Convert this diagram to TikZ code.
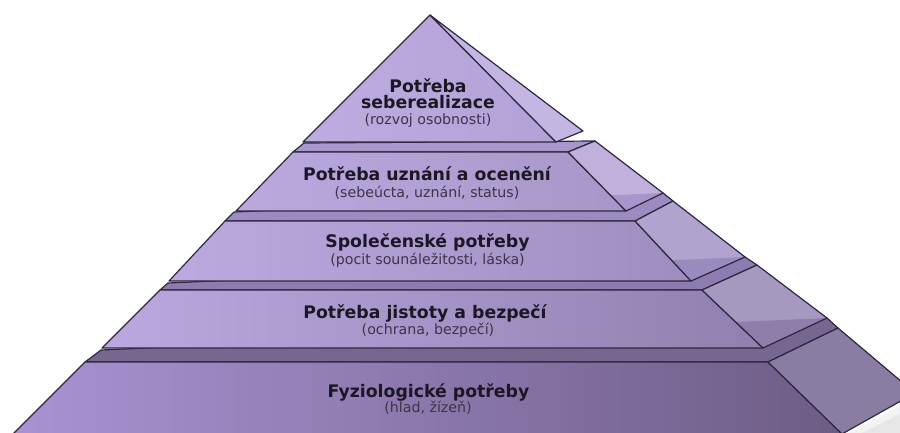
\documentclass[tikz,border=0pt]{standalone}
\usepackage{fontspec}
\setmainfont{DejaVu Sans}
\definecolor{edgec}{HTML}{2E2740}
\definecolor{titc}{HTML}{1B1724}
\definecolor{subc}{HTML}{3B354A}
\definecolor{fa1L}{HTML}{BCACE0}\definecolor{fa1R}{HTML}{B3A2D5}
\definecolor{fa2L}{HTML}{BAA9DF}\definecolor{fa2R}{HTML}{A797C8}
\definecolor{fa3L}{HTML}{BBA9E0}\definecolor{fa3R}{HTML}{9E8EBF}
\definecolor{fa4L}{HTML}{BAA8E0}\definecolor{fa4M}{HTML}{9A8ABB}\definecolor{fa4R}{HTML}{9080AE}
\definecolor{fa5L}{HTML}{A893D2}\definecolor{fa5M}{HTML}{7B6B98}\definecolor{fa5R}{HTML}{6C5D85}
\definecolor{sd1}{HTML}{C4B6E2}\definecolor{sd2}{HTML}{BFB1DC}\definecolor{sd3}{HTML}{B0A3CE}
\definecolor{sd4}{HTML}{A699C0}\definecolor{sd5}{HTML}{8A7DA2}
\definecolor{st2}{HTML}{A797CD}\definecolor{st3}{HTML}{9B8BC1}\definecolor{st4}{HTML}{8C7CB0}\definecolor{st5}{HTML}{756790}
\definecolor{dk2}{HTML}{A696CC}\definecolor{dk3}{HTML}{9A8BBF}\definecolor{dk4}{HTML}{8D7EAC}
\tikzset{
  edge/.style={draw=edgec, line width=1.2pt, line join=round},
  ttl/.style={font=\fontsize{17.3}{20}\selectfont\bfseries, text=titc, inner sep=0pt, anchor=base},
  sbt/.style={font=\fontsize{14.2}{16}\selectfont, text=subc, inner sep=0pt, anchor=base}
}
\begin{document}
\begin{tikzpicture}[x=1pt,y=-1pt]
\useasboundingbox (0,0) rectangle (900,432);
\clip (0,0) rectangle (900,432);
% tier 1
\coordinate (a1) at (430,15);
\coordinate (t1l) at (303,142);
\coordinate (t1r) at (556,142);
\coordinate (t1s) at (583,131);
% tier 2
\coordinate (t2fl) at (293,152); \coordinate (t2fr) at (568,152);
\coordinate (t2bl) at (236,211); \coordinate (t2br) at (626,211);
\coordinate (t2bt) at (595,141); \coordinate (t2bb) at (663,193);
\coordinate (t2kl) at (304,143);
% tier 3
\coordinate (t3fl) at (225,221); \coordinate (t3fr) at (635,221);
\coordinate (t3bl) at (169,281); \coordinate (t3br) at (691,281);
\coordinate (t3bt) at (673,201); \coordinate (t3bb) at (745,257);
\coordinate (t3kl) at (234,212);
% tier 4
\coordinate (t4fl) at (160,290); \coordinate (t4fr) at (702,290);
\coordinate (t4bl) at (102,348); \coordinate (t4br) at (763,348);
\coordinate (t4bt) at (757,265); \coordinate (t4bb) at (827,318);
\coordinate (t4kl) at (168,283);
% tier 5
\coordinate (t5fl) at (85,362); \coordinate (t5fr) at (768,362);
\coordinate (t5bl) at (13,434); \coordinate (t5br) at (842,434);
\coordinate (t5bt) at (838,328); \coordinate (t5bb) at (915,393);
\coordinate (t5kl) at (101,350);

% soft shadow
\fill[black, opacity=0.05] (846,434) -- (900,406) -- (900,434) -- cycle;
\fill[black, opacity=0.05] (860,434) -- (900,414) -- (900,434) -- cycle;

% ---- tier 5
\path[edge, fill=st5] (t5fl) -- (t5kl) -- (t4bb) -- (t5bt) -- (t5fr) -- cycle;
\path[edge, left color=fa5L, middle color=fa5M, right color=fa5R] (t5fl) -- (t5fr) -- (t5br) -- (t5bl) -- cycle;
\path[edge, fill=sd5] (t5fr) -- (t5bt) -- (t5bb) -- (t5br) -- cycle;
% ---- tier 4
\path[edge, fill=st4] (t4fl) -- (t4kl) -- (t3bb) -- (t4bt) -- (t4fr) -- cycle;
\path[edge, left color=fa4L, middle color=fa4M, right color=fa4R] (t4fl) -- (t4fr) -- (t4br) -- (t4bl) -- cycle;
\fill[sd4] (t4fr) -- (t4bt) -- (t4bb) -- (t4br) -- cycle;
\begin{scope}
  \clip (t4fr) -- (t4bt) -- (t4bb) -- (t4br) -- cycle;
  \fill[dk4] (t5fl) -- (t5kl) -- (t4bb) -- (t5bt) -- (t5fr) -- cycle;
\end{scope}
\path[edge] (t4fr) -- (t4bt) -- (t4bb) -- (t4br) -- cycle;
% ---- tier 3
\path[edge, fill=st3] (t3fl) -- (t3kl) -- (t2bb) -- (t3bt) -- (t3fr) -- cycle;
\path[edge, left color=fa3L, right color=fa3R] (t3fl) -- (t3fr) -- (t3br) -- (t3bl) -- cycle;
\fill[sd3] (t3fr) -- (t3bt) -- (t3bb) -- (t3br) -- cycle;
\begin{scope}
  \clip (t3fr) -- (t3bt) -- (t3bb) -- (t3br) -- cycle;
  \fill[dk3] (t4fl) -- (t4kl) -- (t3bb) -- (t4bt) -- (t4fr) -- cycle;
\end{scope}
\path[edge] (t3fr) -- (t3bt) -- (t3bb) -- (t3br) -- cycle;
% ---- tier 2
\path[edge, fill=st2] (t2fl) -- (t2kl) -- (t2bt) -- (t2fr) -- cycle;
\path[edge, left color=fa2L, right color=fa2R] (t2fl) -- (t2fr) -- (t2br) -- (t2bl) -- cycle;
\fill[sd2] (t2fr) -- (t2bt) -- (t2bb) -- (t2br) -- cycle;
\begin{scope}
  \clip (t2fr) -- (t2bt) -- (t2bb) -- (t2br) -- cycle;
  \fill[dk2] (t3fl) -- (t3kl) -- (t2bb) -- (t3bt) -- (t3fr) -- cycle;
\end{scope}
\path[edge] (t2fr) -- (t2bt) -- (t2bb) -- (t2br) -- cycle;
% ---- tier 1
\path[edge, left color=fa1L, right color=fa1R] (a1) -- (t1r) -- (t1l) -- cycle;
\path[edge, fill=sd1] (a1) -- (t1s) -- (t1r) -- cycle;

% ---- texts
\node[ttl] (l1a) at (428,92) {Potřeba};
\node[ttl] (l1b) at (428,108.5) {seberealizace};
\node[sbt] (l1c) at (428,124) {(rozvoj osobnosti)};
\node[ttl] (l2a) at (427,180.5) {Potřeba uznání a ocenění};
\node[sbt] (l2b) at (427,197.5) {(sebeúcta, uznání, status)};
\node[ttl] (l3a) at (427.5,247.5) {Společenské potřeby};
\node[sbt] (l3b) at (427.5,264.5) {(pocit sounáležitosti, láska)};
\node[ttl] (l4a) at (425,318) {Potřeba jistoty a bezpečí};
\node[sbt] (l4b) at (428,334) {(ochrana, bezpečí)};
\node[ttl] (l5a) at (428.5,397) {Fyziologické potřeby};
\node[sbt] (l5b) at (428,412.5) {(hlad, žízeň)};
\end{tikzpicture}
\end{document}
